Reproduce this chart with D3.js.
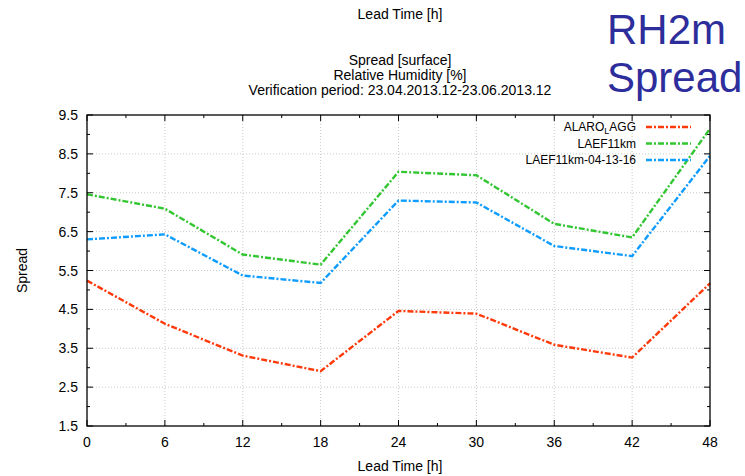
<html>
<head>
<meta charset="utf-8">
<title>RH2m Spread</title>
<style>
  body { margin: 0; background: #fff; }
  text { font-family: "Liberation Sans", Arial, sans-serif; fill: #000; }
  .grid line { stroke: #c8c8c8; stroke-width: 1; stroke-dasharray: 1,2; }
  .line { fill: none; stroke-width: 2.4px; stroke-dasharray: 6,2,2,2; }
</style>
</head>
<body>
<script src="https://d3js.org/d3.v7.min.js"></script>
<script>
// data
var leadTimes = [0, 6, 12, 18, 24, 30, 36, 42, 48];
var alaroLagg = [5.24, 4.13, 3.31, 2.91, 4.46, 4.39, 3.59, 3.26, 5.17];
var laef11km = [7.46, 7.09, 5.91, 5.65, 8.04, 7.95, 6.70, 6.35, 9.15];
var laef11km041316 = [6.30, 6.43, 5.37, 5.18, 7.30, 7.25, 6.13, 5.87, 8.45];
var yTicks = [1.5, 2.5, 3.5, 4.5, 5.5, 6.5, 7.5, 8.5, 9.5];

var series = [
  {name: "ALARO_LAGG", values: alaroLagg, color: "#ff3a0a"},
  {name: "LAEF11km", values: laef11km, color: "#33c633"},
  {name: "LAEF11km-04-13-16", values: laef11km041316, color: "#0d9cff"}
];

var W = 745, H = 476;
var margin = {top: 115, right: 35, bottom: 50, left: 87},
    width = 710 - margin.left,
    height = 426 - margin.top;

var svg = d3.select("body").append("svg")
    .attr("width", W).attr("height", H);

var g = svg.append("g")
    .attr("transform", "translate(" + margin.left + "," + margin.top + ")");

var x = d3.scaleLinear().domain([0, 48]).range([0, width]);
var y = d3.scaleLinear().domain([1.5, 9.5]).range([height, 0]);

// grid
var grid = g.append("g").attr("class", "grid");
grid.selectAll(".gx").data(leadTimes.slice(1, -1)).enter().append("line")
    .attr("x1", function(d) { return x(d); }).attr("x2", function(d) { return x(d); })
    .attr("y1", 0).attr("y2", height);
grid.selectAll(".gy").data(yTicks.slice(1, -1)).enter().append("line")
    .attr("x1", 0).attr("x2", width)
    .attr("y1", function(d) { return y(d); }).attr("y2", function(d) { return y(d); });

// ticks (inside, mirrored)
var xMinor = d3.range(3, 48, 6);
var yMinor = d3.range(2, 9.5, 1);
function tickSet(vals, len) {
  vals.forEach(function(v) {
    g.append("line").attr("x1", x(v)).attr("x2", x(v)).attr("y1", height).attr("y2", height - len).attr("stroke", "#000");
    g.append("line").attr("x1", x(v)).attr("x2", x(v)).attr("y1", 0).attr("y2", len).attr("stroke", "#000");
  });
}
function tickSetY(vals, len) {
  vals.forEach(function(v) {
    g.append("line").attr("x1", 0).attr("x2", len).attr("y1", y(v)).attr("y2", y(v)).attr("stroke", "#000");
    g.append("line").attr("x1", width).attr("x2", width - len).attr("y1", y(v)).attr("y2", y(v)).attr("stroke", "#000");
  });
}
tickSet(leadTimes, 6); tickSet(xMinor, 3);
tickSetY(yTicks, 6); tickSetY(yMinor, 3);

// tick labels
g.selectAll(".xl").data(leadTimes).enter().append("text")
    .attr("x", function(d) { return x(d); }).attr("y", height + 21)
    .attr("text-anchor", "middle").style("font-size", "14px")
    .text(function(d) { return d; });
g.selectAll(".yl").data(yTicks).enter().append("text")
    .attr("x", -9).attr("y", function(d) { return y(d) + 5; })
    .attr("text-anchor", "end").style("font-size", "14px")
    .text(function(d) { return d.toFixed(1); });

// lines
var line = d3.line()
    .x(function(d, i) { return x(leadTimes[i]); })
    .y(function(d) { return y(d); });

series.forEach(function(s) {
  g.append("path").datum(s.values).attr("class", "line")
    .attr("stroke", s.color).attr("d", line);
});

// frame
g.append("rect").attr("width", width).attr("height", height)
    .attr("fill", "none").attr("stroke", "#000").attr("stroke-width", 1.3);

// legend
var legend = g.append("g").attr("transform", "translate(" + (x(48) - 74) + ",12)");
series.forEach(function(s, i) {
  var row = legend.append("g").attr("transform", "translate(0," + (i * 16.5) + ")");
  var t = row.append("text").attr("x", 0).attr("y", 4).attr("text-anchor", "end")
      .style("font-size", "12px");
  if (s.name === "ALARO_LAGG") {
    t.append("tspan").text("ALARO");
    t.append("tspan").attr("dy", 3).style("font-size", "9px").text("L");
    t.append("tspan").attr("dy", -3).text("AGG");
  } else {
    t.text(s.name);
  }
  row.append("line").attr("class", "line").attr("x1", 10).attr("x2", 55)
      .attr("y1", 0).attr("y2", 0).attr("stroke", s.color);
});

// titles
svg.append("text").attr("x", 400).attr("y", 19).attr("text-anchor", "middle")
    .style("font-size", "14px").text("Lead Time [h]");
var titleLines = ["Spread [surface]", "Relative Humidity [%]", "Verification period: 23.04.2013.12-23.06.2013.12"];
svg.selectAll(".title").data(titleLines).enter().append("text")
    .attr("x", 400).attr("y", function(d, i) { return 65 + i * 15; })
    .attr("text-anchor", "middle").style("font-size", "14px")
    .text(function(d) { return d; });

svg.append("text").attr("x", 400).attr("y", 471).attr("text-anchor", "middle")
    .style("font-size", "14px").text("Lead Time [h]");

svg.append("text").attr("transform", "translate(27," + (margin.top + height / 2) + ") rotate(-90)")
    .attr("text-anchor", "middle").style("font-size", "14px").text("Spread");

// big label
svg.append("text").attr("x", 607).attr("y", 44).style("font-size", "42px")
    .style("fill", "#2d2d9b").text("RH2m");
svg.append("text").attr("x", 607).attr("y", 92).style("font-size", "42px")
    .style("fill", "#2d2d9b").text("Spread");
</script>
</body>
</html>
